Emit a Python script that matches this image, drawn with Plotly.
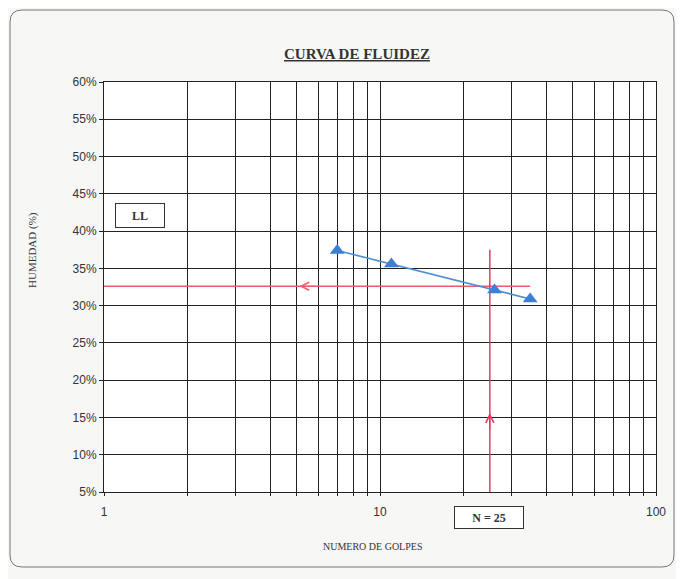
import math
import plotly.graph_objects as go

# ensayo de limite liquido (Casagrande)
golpes = [7, 11, 26, 35]
humedad = [37.4, 35.6, 32.1, 30.9]

ll_value = 32.6      # limite liquido
n_golpes = 25        # numero de golpes de referencia

y_ticks = [5, 10, 15, 20, 25, 30, 35, 40, 45, 50, 55, 60]
y_labels = [f"{v}%" for v in y_ticks]
x_grid = [1, 2, 3, 4, 5, 6, 7, 8, 9, 10, 20, 30, 40, 50, 60, 70, 80, 90, 100]
x_labels = ["1", "", "", "", "", "", "", "", "", "10",
            "", "", "", "", "", "", "", "", "100"]

# posiciones de las flechas sobre las lineas rojas
arrow_x = 5.1
arrow_y = 15.6

# la pagina deja 8 px de margen del body
OFF = 8
W, H = 684 - OFF, 579 - OFF
L, R, T, B = 104 - OFF, 28, 82 - OFF, 87
pw, ph = W - L - R, H - T - B


def px_x(p):
    return (p - OFF - L) / pw


def px_y(p):
    return (H - B - (p - OFF)) / ph


def rounded_box(left, top, right, bottom, rad):
    # trayectoria en coordenadas paper con esquinas redondeadas
    x0, x1 = px_x(left), px_x(right)
    y0, y1 = px_y(bottom), px_y(top)
    rx, ry = rad / pw, rad / ph
    return (f"M{x0 + rx},{y1} L{x1 - rx},{y1} Q{x1},{y1} {x1},{y1 - ry} "
            f"L{x1},{y0 + ry} Q{x1},{y0} {x1 - rx},{y0} "
            f"L{x0 + rx},{y0} Q{x0},{y0} {x0},{y0 + ry} "
            f"L{x0},{y1 - ry} Q{x0},{y1} {x0 + rx},{y1} Z")


fig = go.Figure()

# linea horizontal del LL
fig.add_trace(go.Scatter(x=[1, max(golpes)], y=[ll_value, ll_value], mode="lines",
                         line=dict(color="#ee5a6a", width=1.3), hoverinfo="skip"))
# linea vertical N = 25
fig.add_trace(go.Scatter(x=[n_golpes, n_golpes], y=[5, max(humedad) + 0.1], mode="lines",
                         line=dict(color="#e23a62", width=1.5), hoverinfo="skip"))

# curva de fluidez
fig.add_trace(go.Scatter(x=golpes, y=humedad, mode="lines+markers",
                         line=dict(color="#4a8fd0", width=1.6),
                         marker=dict(symbol="triangle-up", size=13, color="#3d7fd6"),
                         name="Curva"))

fig.add_annotation(x=math.log10(arrow_x), y=ll_value, ax=18, ay=0, text="",
                   showarrow=True, arrowhead=5, arrowsize=1.6, arrowwidth=1,
                   arrowcolor="#ee5a6a")
fig.add_annotation(x=math.log10(n_golpes), y=arrow_y, ax=0, ay=18, text="",
                   showarrow=True, arrowhead=5, arrowsize=1.6, arrowwidth=1,
                   arrowcolor="#e23a62")

txt = dict(xref="paper", yref="paper", showarrow=False,
           xanchor="center", yanchor="middle")

# cuadros de texto
fig.add_annotation(text="<b>LL</b>", x=px_x(140), y=px_y(216),
                   width=46, height=21, bordercolor="#333", borderwidth=1,
                   bgcolor="white",
                   font=dict(family="Liberation Serif", size=12, color="#333"), **txt)
fig.add_annotation(text="<b>N = 25</b>", x=px_x(489), y=px_y(517),
                   width=66, height=19, bordercolor="#333", borderwidth=1,
                   bgcolor="white",
                   font=dict(family="Liberation Serif", size=12, color="#333"), **txt)

# titulo y rotulos
fig.add_annotation(text="<b><u>CURVA DE FLUIDEZ</u></b>", x=px_x(357), y=px_y(54),
                   font=dict(family="Liberation Serif", size=15, color="#333"), **txt)
fig.add_annotation(text="HUMEDAD (%)", x=px_x(32), y=px_y(250), textangle=-90,
                   font=dict(family="Liberation Serif", size=11, color="#333"), **txt)
fig.add_annotation(text="NUMERO DE GOLPES", x=px_x(372), y=px_y(546),
                   font=dict(family="Liberation Serif", size=10, color="#333"), **txt)

# marco exterior
fig.add_shape(type="path", xref="paper", yref="paper",
              path=rounded_box(10, 10, 674, 567, 12),
              line=dict(color="#777", width=1), layer="below")

fig.update_xaxes(type="log", range=[0, 2], tickvals=x_grid, ticktext=x_labels,
                 showgrid=True, gridcolor="#222", gridwidth=1,
                 showline=True, linecolor="#222", mirror=True,
                 ticks="outside", ticklen=3, tickcolor="#222",
                 ticklabelstandoff=6,
                 tickfont=dict(family="Liberation Sans", size=12, color="#333"),
                 zeroline=False)
fig.update_yaxes(range=[5, 60], tickvals=y_ticks, ticktext=y_labels,
                 showgrid=True, gridcolor="#222", gridwidth=1,
                 showline=True, linecolor="#222", mirror=True,
                 ticks="outside", ticklen=4, tickcolor="#222",
                 tickfont=dict(family="Liberation Sans", size=12, color="#333"),
                 zeroline=False)

fig.update_layout(width=W, height=H, margin=dict(l=L, r=R, t=T, b=B),
                  paper_bgcolor="#f7f7f6", plot_bgcolor="white",
                  showlegend=False)

fig.write_html("out.html")
